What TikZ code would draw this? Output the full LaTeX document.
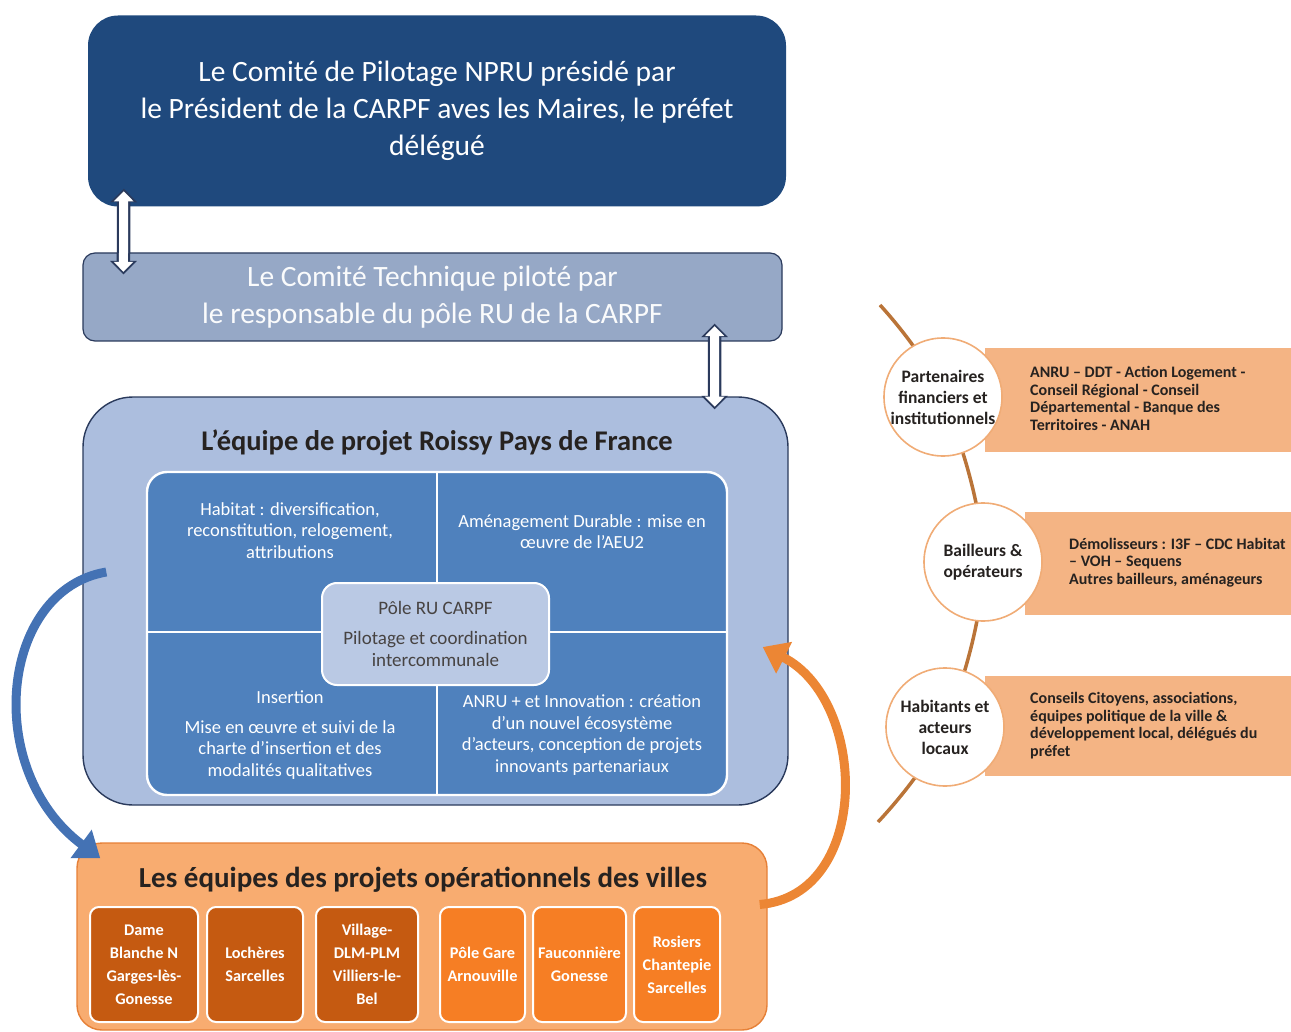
\documentclass[tikz,border=0pt]{standalone}
\usepackage{fontspec}
\setmainfont{Carlito}
\usepackage{tikz}
\usetikzlibrary{arrows.meta,calc,positioning}

\definecolor{navyTop}{RGB}{31,73,125}
\definecolor{navyLine}{RGB}{42,58,92}
\definecolor{techFill}{RGB}{150,168,198}
\definecolor{eqFill}{RGB}{172,190,222}
\definecolor{quadFill}{RGB}{79,129,189}
\definecolor{poleFill}{RGB}{186,201,228}
\definecolor{villeFill}{RGB}{248,172,112}
\definecolor{villeLine}{RGB}{230,128,55}
\definecolor{cityDark}{RGB}{197,90,17}
\definecolor{cityLight}{RGB}{246,126,36}
\definecolor{bandFill}{RGB}{244,180,132}
\definecolor{ringLine}{RGB}{240,172,118}
\definecolor{stemBrown}{RGB}{186,116,56}
\definecolor{arrBlue}{RGB}{68,114,180}
\definecolor{arrOrange}{RGB}{236,134,52}
\definecolor{inkDark}{RGB}{38,34,32}

\begin{document}
\begin{tikzpicture}[x=1pt,y=1pt,yscale=-1,
  box/.style={rounded corners=#1, align=center, inner sep=0pt},
  dblarrow/.style={white, line width=9pt,
    {Triangle[length=10pt,width=19pt]}-{Triangle[length=10pt,width=19pt]},
    shorten <=2.6pt, shorten >=2.6pt,
    preaction={draw=navyLine, line width=13.5pt, shorten <=0pt, shorten >=0pt,
      arrows={Triangle[length=13.5pt,width=26pt]-Triangle[length=13.5pt,width=26pt]}}},
  quadtxt/.style={anchor=north, align=center, inner sep=0pt, text=white,
    font=\fontsize{18.5}{21.5}\selectfont},
  city/.style={box=9, draw=white, line width=2pt, minimum height=115pt,
    text=white, font=\bfseries\fontsize{16.3}{23}\selectfont},
  ring/.style={circle, draw=ringLine, line width=1.6pt, fill=white, minimum size=118pt,
    align=center, inner sep=0pt, text=inkDark, font=\bfseries\fontsize{17.5}{21}\selectfont},
  bandtxt/.style={anchor=west, align=left, inner sep=0pt, text=inkDark,
    font=\bfseries\fontsize{16}{17.5}\selectfont},
  bigarrow/.style={line width=9pt, -{Triangle[length=24pt,width=34pt]}}]
  \useasboundingbox (0,0) rectangle (1291,1032);

  %Shape: Rounded Rect (comité de pilotage)
  \node[box=30, fill=navyTop, minimum width=698pt, minimum height=191pt, text=white,
    font=\fontsize{29.5}{37}\selectfont] (comite) at (437,111)
    {Le Comité de Pilotage NPRU présidé par\\le Président de la CARPF aves les Maires, le préfet\\délégué};
  %Shape: Rounded Rect (comité technique)
  \node[box=12, fill=techFill, draw=navyLine, line width=1.2pt, minimum width=699pt,
    minimum height=88pt, text=white!95!techFill, font=\fontsize{29.5}{37}\selectfont] (technique) at (432.5,297)
    {Le Comité Technique piloté par\\le responsable du pôle RU de la CARPF};
  %Shape: Rounded Rect (équipe de projet)
  \node[box=50, fill=eqFill, draw=navyLine, line width=1.4pt, minimum width=705pt,
    minimum height=408pt] (equipe) at (435.5,601) {};
  % Text Node
  \node[inner sep=0pt, text=inkDark, font=\bfseries\fontsize{28.5}{30}\selectfont] (eqtitre) at (437,443)
    {L’équipe de projet Roissy Pays de France};

  %Shape: quadrants
  \draw[fill=quadFill, draw=white, line width=2.4pt, rounded corners=20] (147,472) rectangle (727,795);
  \draw[white, line width=2.4pt] (437,472) -- (437,795);
  \draw[white, line width=2.4pt] (147,632) -- (727,632);

  % Text Node
  \node[quadtxt] (habitat) at (290,502)
    {Habitat : diversification,\\reconstitution, relogement,\\attributions};
  % Text Node
  \node[quadtxt] (amenag) at (582,514)
    {Aménagement Durable : mise en\\œuvre de l’AEU2};
  % Text Node
  \node[quadtxt] (insertion) at (290,691)
    {Insertion\\[8pt]Mise en œuvre et suivi de la\\charte d’insertion et des\\modalités qualitatives};
  % Text Node
  \node[quadtxt] (innov) at (582,695)
    {ANRU + et Innovation : création\\d’un nouvel écosystème\\d’acteurs, conception de projets\\innovants partenariaux};

  %Shape: Rounded Rect (pôle RU)
  \node[box=15, fill=poleFill, draw=white, line width=2pt, minimum width=227pt, minimum height=102pt,
    text=inkDark!85!white, font=\fontsize{19}{22}\selectfont] (pole) at (435.5,634)
    {Pôle RU CARPF\\[8pt]Pilotage et coordination\\intercommunale};

  %Shape: Rounded Rect (équipes des villes)
  \node[box=25, fill=villeFill, draw=villeLine, line width=1.4pt, minimum width=690pt,
    minimum height=187pt] (villes) at (422,936.5) {};
  % Text Node
  \node[inner sep=0pt, text=inkDark, font=\bfseries\fontsize{29}{30}\selectfont] (vtitre) at (423,880)
    {Les équipes des projets opérationnels des villes};

  \node[city, fill=cityDark, minimum width=108pt] (dame) at (144,964.5) {Dame\\Blanche N\\Garges-lès-\\Gonesse};
  \node[city, fill=cityDark, minimum width=96pt] (locheres) at (255,964.5) {Lochères\\Sarcelles};
  \node[city, fill=cityDark, minimum width=102pt] (village) at (367,964.5) {Village-\\DLM-PLM\\Villiers-le-\\Bel};
  \node[city, fill=cityLight, minimum width=85pt] (gare) at (482.5,964.5) {Pôle Gare\\Arnouville};
  \node[city, fill=cityLight, minimum width=93pt] (faucon) at (579.5,964.5) {Fauconnière\\Gonesse};
  \node[city, fill=cityLight, minimum width=86pt] (rosiers) at (677,964.5) {Rosiers\\Chantepie\\Sarcelles};

  %Straight Lines (double arrows)
  \draw[dblarrow] ($(comite.south west)+(36,-18)$) -- ($(technique.north west)+(41,22)$);
  \draw[dblarrow] ($(technique.south east)+(-68,-18)$) -- ($(equipe.north east)+(-74,13)$);

  %Curve Lines (flux)
  \draw[bigarrow, arrBlue] ($(equipe.west)+(24,-29)$) .. controls (0,590) and (-18,770) .. ($(villes.north west)+(24,16)$);
  \draw[bigarrow, arrOrange] ($(villes.east)+(-8,-32)$) .. controls (872,895) and (868,700) .. ($(equipe.east)+(-26,46)$);

  %Shape: bands
  \fill[bandFill] (985,348) rectangle (1291,452);
  \fill[bandFill] (1025,512) rectangle (1291,615);
  \fill[bandFill] (985,676) rectangle (1291,776);

  \coordinate (stemtop) at (880,305);
  \coordinate (c1) at (943,397);
  \coordinate (c2) at (983,562);
  \coordinate (c3) at (945,727);
  \coordinate (stembot) at (878,822);
  \draw[stemBrown, line width=3.5pt] plot[smooth, tension=0.6] coordinates {(stemtop) (c1) (c2) (c3) (stembot)};

  \node[ring] (partenaires) at (c1) {Partenaires\\financiers et\\institutionnels};
  \node[ring] (bailleurs) at (c2) {Bailleurs \&\\opérateurs};
  \node[ring] (habitants) at (c3) {Habitants et\\acteurs\\locaux};

  % Text Node
  \node[bandtxt] (partxt) at (1030,398.5)
    {ANRU – DDT - Action Logement -\\Conseil Régional - Conseil\\Départemental - Banque des\\Territoires - ANAH};
  % Text Node
  \node[bandtxt] (baitxt) at (1069,562.5)
    {Démolisseurs : I3F – CDC Habitat\\– VOH – Sequens\\Autres bailleurs, aménageurs};
  % Text Node
  \node[bandtxt] (habtxt) at (1030,725.5)
    {Conseils Citoyens, associations,\\équipes politique de la ville \&\\développement local, délégués du\\préfet};
\end{tikzpicture}
\end{document}
